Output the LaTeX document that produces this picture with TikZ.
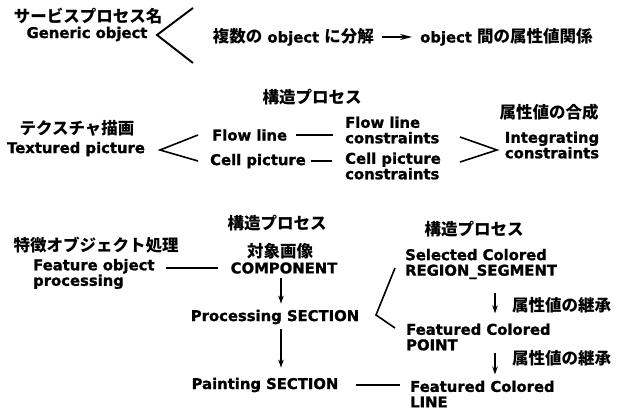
\documentclass[tikz,border=0pt]{standalone}
\usepackage{fontspec}
\setmainfont{DejaVu Sans}[BoldFeatures={FakeBold=1.2}]
\newfontfamily\jpfont{Noto Sans CJK JP}
\usetikzlibrary{arrows.meta}
\newcommand\J[1]{{\jpfont\bfseries\fontsize{16.5}{18}\selectfont #1}}
\begin{document}
\begin{tikzpicture}[x=1pt,y=-1pt,
  en/.style={inner sep=0pt, font=\bfseries\fontsize{14.8}{15.5}\selectfont},
  ja/.style={inner sep=0pt, font=\jpfont\bfseries\fontsize{16.5}{18}\selectfont},
  conn/.style={line width=1.3pt},
  arr/.style={line width=1.3pt, -{Stealth[length=8pt,width=5.5pt]}},
  brk/.style={line width=1.6pt},
]
\useasboundingbox (0,0) rectangle (618,414);

% ---- row 1
\node[ja] (svc) at (88,16) {サービスプロセス名};
\node[en] (gen) at (87,34) {Generic object};
\coordinate (b1t) at (193,8);
\coordinate (b1v) at (157,35);
\coordinate (b1b) at (193,63);
\draw[brk, line width=1.9pt] (b1t) -- (b1v) -- (b1b);
\node[en, anchor=east] (dec) at (374,37) {\J{複数の} object \J{に分解}};
\node[en, anchor=west] (rel) at (420,37) {object \J{間の属性値関係}};
\draw[arr, -{Stealth[length=12pt,width=6pt]}, shorten <=8pt, shorten >=8pt] (dec.east) -- (dec.east -| rel.west);

% ---- row 2
\node[ja] (st1) at (312,97) {構造プロセス};
\node[ja] (attr) at (549,112) {属性値の合成};
\node[ja] (tex) at (77,128) {テクスチャ描画};
\node[en] (texp) at (76,149) {Textured picture};
\coordinate (b2t) at (198,135);
\coordinate (b2v) at (160,150);
\coordinate (b2b) at (198,161);
\draw[brk] (b2t) -- (b2v) -- (b2b);
\node[en, anchor=west] (flow) at (212,135) {Flow line};
\node[en, anchor=west, align=left] (flowc) at (345,130) {Flow line\\constraints};
\draw[conn, shorten <=9pt, shorten >=12pt] (flow.east) -- (flow.east -| flowc.west);
\node[en, anchor=west] (cell) at (210,161) {Cell picture};
\node[en, anchor=west, align=left] (cellc) at (345,166) {Cell picture\\constraints};
\draw[conn, shorten <=5pt, shorten >=13pt] (cell.east) -- (cell.east -| cellc.west);
\coordinate (b3t) at (460,137);
\coordinate (b3v) at (497,150);
\coordinate (b3b) at (460,162);
\draw[brk] (b3t) -- (b3v) -- (b3b);
\node[en, align=center] (integ) at (552,145) {Integrating\\constraints};

% ---- row 3
\node[ja] (st2) at (277,223) {構造プロセス};
\node[ja] (feat) at (96,245) {特徴オブジェクト処理};
\node[ja] (tgt) at (280,251) {対象画像};
\node[en, anchor=west, align=left] (fop) at (33,274) {Feature object\\processing};
\node[en] (comp) at (284,268) {COMPONENT};
\draw[conn, shorten <=11pt, shorten >=13pt] (comp.west -| fop.east) -- (comp.west);
\node[en] (proc) at (275,317) {Processing SECTION};
\node[en] (paint) at (265,385) {Painting SECTION};
\coordinate (ax) at (281,0);
\draw[arr, shorten <=4pt, shorten >=6pt] (comp.south -| ax) -- (proc.north -| ax);
\draw[arr, shorten <=5pt, shorten >=10pt] (proc.south -| ax) -- (paint.north -| ax);

\node[ja] (st3) at (474,229) {構造プロセス};
\node[en, anchor=west, align=left] (sel) at (405,264) {Selected Colored\\REGION\_SEGMENT};
\node[en, anchor=west, align=left] (fpt) at (406,337) {Featured Colored\\POINT};
\node[en, anchor=west, align=left] (fln) at (410,394) {Featured Colored\\LINE};
\node[ja, anchor=west] (inh1) at (512,305) {属性値の継承};
\node[ja, anchor=west] (inh2) at (512,358) {属性値の継承};
\coordinate (bx) at (495,0);
\draw[arr, shorten <=14pt, shorten >=10pt] (sel.south -| bx) -- (fpt.north -| bx);
\draw[arr, shorten <=2pt, shorten >=6pt] (fpt.south -| bx) -- (fln.north -| bx);
\coordinate (b4t) at (395,268);
\coordinate (b4v) at (376,315);
\coordinate (b4b) at (395,328);
\draw[brk] (b4t) -- (b4v) -- (b4b);
\draw[conn, shorten <=17pt, shorten >=10pt] (paint.east) -- (paint.east -| fln.west);
\end{tikzpicture}
\end{document}
